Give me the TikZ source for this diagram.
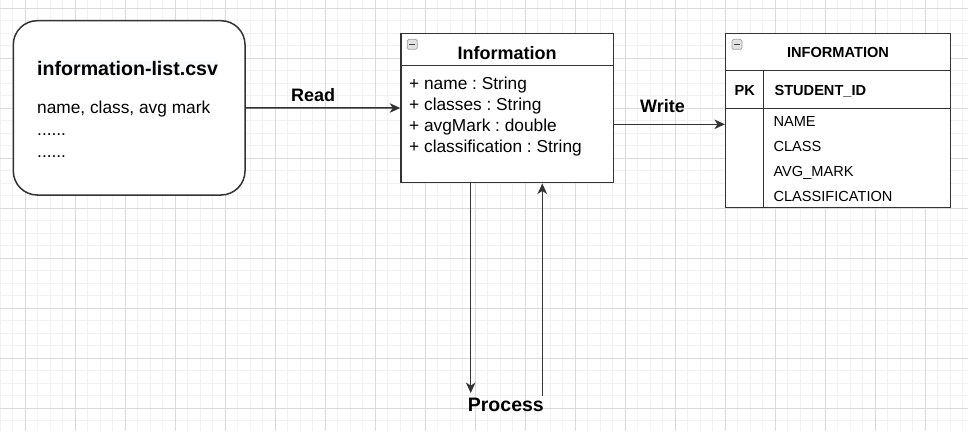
\documentclass[tikz,border=0pt]{standalone}
\usepackage{fontspec}
\setmainfont{Liberation Sans}
\usetikzlibrary{arrows.meta,calc}
\definecolor{strk}{HTML}{333333}
\definecolor{gmin}{HTML}{F1F1F1}
\definecolor{gmaj}{HTML}{DADADA}
\definecolor{hl}{HTML}{F8F9FA}
\newcommand\fsBody{\fontsize{17.3}{20}\selectfont}
\newcommand\fsLab{\fontsize{18}{21}\selectfont}
\newcommand\fsTitle{\fontsize{19.6}{22}\selectfont}
\newcommand\fsProc{\fontsize{19.5}{22}\selectfont}
\newcommand\fsTbl{\fontsize{14.6}{17}\selectfont}
\frenchspacing
\begin{document}
\frenchspacing
\begin{tikzpicture}[x=1pt,y=-1pt,
  box/.style={draw=strk, line width=1.5pt, inner sep=0pt, fill=white},
  arr/.style={draw=strk, line width=1.5pt, -{Stealth[length=10.5pt,width=9.5pt,inset=3pt]}},
  sep/.style={draw=strk, line width=1.5pt},
  txt/.style={inner sep=0pt, anchor=base west, text=black},
  ctxt/.style={inner sep=0pt, anchor=base, text=black},
  icon/.style={draw=gray!75, fill=gray!22, minimum size=10pt, inner sep=0pt, line width=0.7pt, rounded corners=1.5pt},
  minus/.style={draw=black!75, line width=1pt}]
\fill[white] (0,0) rectangle (968,431);
\useasboundingbox (0,0) rectangle (968,431);
% grid
\foreach \i in {0,...,77} \draw[gmin, line width=1pt] ({0.3+12.5*\i},0) -- ({0.3+12.5*\i},431);
\foreach \i in {0,...,35} \draw[gmin, line width=1pt] (0,{-4.2+12.5*\i}) -- (968,{-4.2+12.5*\i});
\foreach \i in {0,...,19} \draw[gmaj, line width=1pt] ({25.3+50*\i},0) -- ({25.3+50*\i},431);
\foreach \i in {0,...,8} \draw[gmaj, line width=1pt] (0,{8.3+50*\i}) -- (968,{8.3+50*\i});

% csv box
\node[box, rounded corners=24pt, minimum width=231.7pt, minimum height=174.3pt] (csv) at (129.15,107.85) {};
\node[txt, font={\fsTitle\bfseries}, fill=hl] (csvt) at (37,75) {information-list.csv};
\node[txt, font=\fsBody] (csv1) at (37,113) {name, class, avg mark};
\node[txt, font=\fsBody] (csv2) at (37,135.3) {......};
\node[txt, font=\fsBody] (csv3) at (37,157.3) {......};

% class box
\node[box, minimum width=212.3pt, minimum height=149.4pt] (info) at (507.15,108) {};
\coordinate (h3) at (0,65.3);
\draw[sep] (info.west |- h3) -- (info.east |- h3);
\node[icon] (ic1) at (412.2,44.3) {};
\draw[minus] ($(ic1.center)+(-3,0)$) -- ($(ic1.center)+(3,0)$);
\node[ctxt, font={\fsLab\bfseries}] (infot) at (507,59) {Information};
\node[txt, font=\fsBody] (a1) at (409,89) {+ name : String};
\node[txt, font=\fsBody] (a2) at (409,110.3) {+ classes : String};
\node[txt, font=\fsBody] (a3) at (409,131.6) {+ avgMark : double};
\node[txt, font=\fsBody] (a4) at (409,152.9) {+ classification : String};

% table
\node[box, minimum width=225pt, minimum height=174.4pt] (tbl) at (838.2,120.5) {};
\coordinate (h1) at (0,70.7);
\coordinate (h2) at (0,108.3);
\coordinate (vx) at (763.3,0);
\draw[sep] (tbl.west |- h1) -- (tbl.east |- h1);
\draw[sep] (tbl.west |- h2) -- (tbl.east |- h2);
\draw[sep] (vx |- h1) -- (vx |- tbl.south);
\node[icon] (ic2) at (737,44.3) {};
\draw[minus] ($(ic2.center)+(-3,0)$) -- ($(ic2.center)+(3,0)$);
\node[ctxt, font={\fsTbl\bfseries}] (tblt) at (838,57.7) {INFORMATION};
\node[txt, font={\fsTbl\bfseries}] (pk) at (734.3,95) {PK};
\node[txt, font={\fsTbl\bfseries}] (sid) at (774.3,95) {STUDENT\_ID};
\node[txt, font=\fsTbl] (r1) at (773.3,126) {NAME};
\node[txt, font=\fsTbl] (r2) at (773.3,151) {CLASS};
\node[txt, font=\fsTbl] (r3) at (773.3,176) {AVG\_MARK};
\node[txt, font=\fsTbl] (r4) at (773.3,201) {CLASSIFICATION};

% connectors
\draw[arr] (csv.east) -- (info.west);
\node[txt, font={\fsLab\bfseries}] (read) at (291,101) {Read};
\coordinate (w) at (0,124.3);
\draw[arr] (info.east |- w) -- (tbl.west |- w);
\node[txt, font={\fsLab\bfseries}] (write) at (640,112.7) {Write};
\node[txt, font={\fsProc\bfseries}] (proc) at (467.7,411.7) {Process};
\coordinate (d) at (470.7,0);
\coordinate (u) at (542.3,0);
\draw[arr] (info.south -| d) -- ([yshift=5pt]proc.north -| d);
\draw[arr] ([yshift=1.7pt]proc.north -| u) -- (info.south -| u);
\end{tikzpicture}
\end{document}
